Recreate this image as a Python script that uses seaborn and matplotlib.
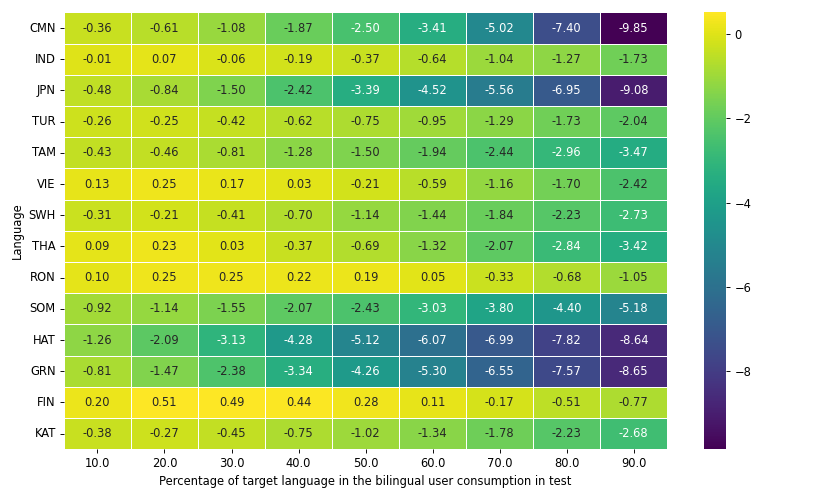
import numpy as np
import pandas as pd
import seaborn as sns
import matplotlib
matplotlib.use("Agg")
import matplotlib.pyplot as plt

languages = ["CMN", "IND", "JPN", "TUR", "TAM", "VIE", "SWH", "THA", "RON", "SOM", "HAT", "GRN", "FIN", "KAT"]
percentages = [10.0, 20.0, 30.0, 40.0, 50.0, 60.0, 70.0, 80.0, 90.0]

cmn = [-0.36, -0.61, -1.08, -1.87, -2.50, -3.41, -5.02, -7.40, -9.85]
ind = [-0.01, 0.07, -0.06, -0.19, -0.37, -0.64, -1.04, -1.27, -1.73]
jpn = [-0.48, -0.84, -1.50, -2.42, -3.39, -4.52, -5.56, -6.95, -9.08]
tur = [-0.26, -0.25, -0.42, -0.62, -0.75, -0.95, -1.29, -1.73, -2.04]
tam = [-0.43, -0.46, -0.81, -1.28, -1.50, -1.94, -2.44, -2.96, -3.47]
vie = [0.13, 0.25, 0.17, 0.03, -0.21, -0.59, -1.16, -1.70, -2.42]
swh = [-0.31, -0.21, -0.41, -0.70, -1.14, -1.44, -1.84, -2.23, -2.73]
tha = [0.09, 0.23, 0.03, -0.37, -0.69, -1.32, -2.07, -2.84, -3.42]
ron = [0.10, 0.25, 0.25, 0.22, 0.19, 0.05, -0.33, -0.68, -1.05]
som = [-0.92, -1.14, -1.55, -2.07, -2.43, -3.03, -3.80, -4.40, -5.18]
hat = [-1.26, -2.09, -3.13, -4.28, -5.12, -6.07, -6.99, -7.82, -8.64]
grn = [-0.81, -1.47, -2.38, -3.34, -4.26, -5.30, -6.55, -7.57, -8.65]
fin = [0.20, 0.51, 0.49, 0.44, 0.28, 0.11, -0.17, -0.51, -0.77]
kat = [-0.38, -0.27, -0.45, -0.75, -1.02, -1.34, -1.78, -2.23, -2.68]

rows = [cmn, ind, jpn, tur, tam, vie, swh, tha, ron, som, hat, grn, fin, kat]
df = pd.DataFrame(rows, index=languages, columns=percentages)

# drawn big and saved at low dpi, like the original
fig = plt.figure(figsize=(10, 6), dpi=83)
ax = fig.add_axes([0.077, 0.098, 0.727, 0.877])
cax = fig.add_axes([0.848, 0.098, 0.027, 0.877])

sns.heatmap(df, ax=ax, cbar_ax=cax, cmap="viridis", annot=True, fmt=".2f",
            linewidths=0.5, linecolor="white")

# this cell reads white in the original
ax.texts[4].set_color("white")

ax.set_xlabel("Percentage of target language in the bilingual user consumption in test")
ax.set_ylabel("Language")
ax.tick_params(axis="y", rotation=0)

fig.savefig("out.png", dpi=83)
